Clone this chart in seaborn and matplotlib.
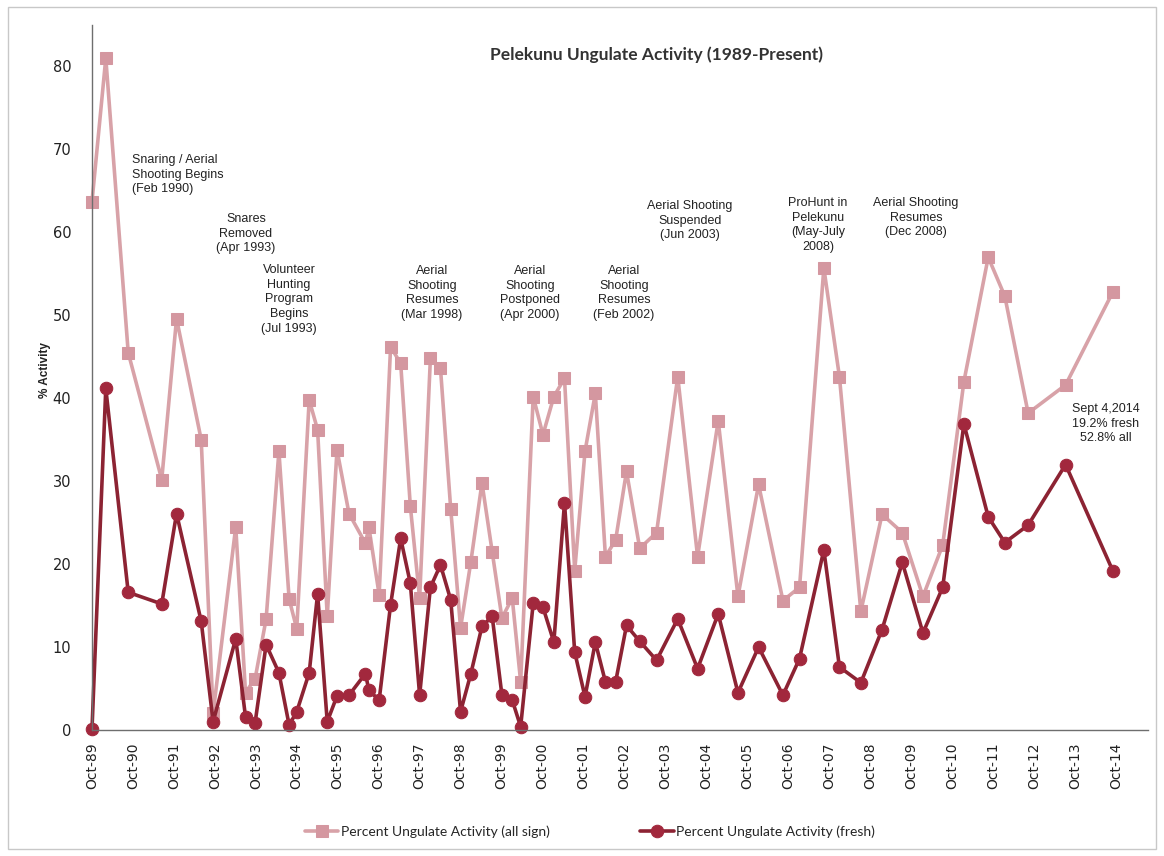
import matplotlib
matplotlib.use("Agg")
import matplotlib.pyplot as plt
import matplotlib.dates as mdates
from matplotlib.patches import Rectangle
import pandas as pd
import seaborn as sns

# survey dates (approximate)
survey_dates = [
    "1989-10-01", "1990-02-01", "1990-08-20", "1991-06-15", "1991-10-25",
    "1992-06-01", "1992-09-15", "1993-04-05", "1993-07-01", "1993-09-25",
    "1994-01-01", "1994-04-25", "1994-07-25", "1994-10-01", "1995-01-20",
    "1995-04-05", "1995-06-30", "1995-09-25", "1996-01-10", "1996-06-05",
    "1996-07-05", "1996-10-05", "1997-01-15", "1997-04-15", "1997-07-10",
    "1997-10-01", "1998-01-05", "1998-04-05", "1998-07-05", "1998-10-01",
    "1999-01-01", "1999-04-10", "1999-07-10", "1999-10-05", "2000-01-05",
    "2000-03-20", "2000-07-10", "2000-10-05", "2001-01-10", "2001-04-15",
    "2001-07-15", "2001-10-15", "2002-01-15", "2002-04-15", "2002-07-15",
    "2002-10-20", "2003-02-15", "2003-07-15", "2004-01-20", "2004-07-15",
    "2005-01-15", "2005-07-10", "2006-01-10", "2006-08-15", "2007-01-10",
    "2007-08-15", "2008-01-01", "2008-07-10", "2009-01-15", "2009-07-15",
    "2010-01-15", "2010-07-10", "2011-01-15", "2011-08-20", "2012-01-15",
    "2012-08-10", "2013-07-10", "2014-09-04",
]

all_sign = [
    63.7, 81.0, 45.5, 30.2, 49.6, 35.0, 2.0, 24.5, 4.5, 6.2,
    13.4, 33.6, 15.8, 12.2, 39.8, 36.2, 13.7, 33.8, 26.1, 22.5,
    24.5, 16.3, 46.2, 44.2, 27.0, 15.9, 44.8, 43.6, 26.7, 12.3,
    20.3, 29.8, 21.5, 13.5, 15.9, 5.8, 40.2, 35.6, 40.2, 42.4,
    19.2, 33.6, 40.6, 20.9, 22.9, 31.2, 21.9, 23.8, 42.6, 20.9,
    37.3, 16.1, 29.6, 15.6, 17.2, 55.7, 42.6, 14.3, 26.0, 23.8,
    16.1, 22.3, 42.0, 57.0, 52.3, 38.2, 41.6, 52.8,
]

fresh = [
    0.1, 41.2, 16.6, 15.2, 26.1, 13.1, 1.0, 11.0, 1.6, 0.9,
    10.3, 6.9, 0.6, 2.2, 6.9, 16.4, 1.0, 4.1, 4.2, 6.8,
    4.8, 3.6, 15.1, 23.1, 17.7, 4.2, 17.2, 19.9, 15.7, 2.2,
    6.8, 12.5, 13.7, 4.2, 3.6, 0.4, 15.3, 14.8, 10.6, 27.4,
    9.4, 4.0, 10.6, 5.8, 5.8, 12.6, 10.7, 8.4, 13.4, 7.4,
    14.0, 4.5, 10.0, 4.2, 8.6, 21.7, 7.6, 5.7, 12.1, 20.2,
    11.7, 17.2, 36.9, 25.7, 22.6, 24.7, 32.0, 19.2,
]

series_names = ["Percent Ungulate Activity (all sign)", "Percent Ungulate Activity (fresh)"]

df = pd.DataFrame({"Date": pd.to_datetime(survey_dates), "all": all_sign, "fresh": fresh})

sns.set_theme(style="white")
plt.rcParams["font.family"] = ["DejaVu Sans"]

W, H = 1164, 856
fig = plt.figure(figsize=(W / 100, H / 100), dpi=100)
ax = fig.add_axes([92 / W, 1 - 730 / H, (1148 - 92) / W, 705 / H])

# all sign (pink squares)
sns.lineplot(data=df, x="Date", y="all", ax=ax, color="#D8A2A8", linewidth=2.6,
             marker="s", markersize=9, markerfacecolor="#D497A0",
             markeredgecolor="#D497A0", label=series_names[0], clip_on=False)
# fresh (dark red circles)
sns.lineplot(data=df, x="Date", y="fresh", ax=ax, color="#8C2333", linewidth=2.6,
             marker="o", markersize=9, markerfacecolor="#A2283D",
             markeredgecolor="#A2283D", label=series_names[1], clip_on=False)

ax.set_xlim(pd.Timestamp("1989-10-01"), pd.Timestamp("2015-07-15"))
ax.set_ylim(0, 85)
ax.set_yticks(range(0, 81, 10))
ax.xaxis.set_major_locator(mdates.MonthLocator(bymonth=10))
ax.xaxis.set_major_formatter(mdates.DateFormatter("%b-%y"))
ax.set_xlabel("")
ax.set_ylabel("")

for s in ["top", "right"]:
    ax.spines[s].set_visible(False)
for s in ["left", "bottom"]:
    ax.spines[s].set_color("#6E6E6E")
    ax.spines[s].set_linewidth(1.0)

ax.tick_params(axis="x", direction="in", length=4, width=1, color="#6E6E6E",
               labelrotation=90, labelsize=10, pad=9, labelcolor="#222222")
ax.tick_params(axis="y", length=0, labelsize=10.5, pad=15, labelcolor="#222222")
for lbl in ax.get_xticklabels() + ax.get_yticklabels():
    lbl.set_family("DejaVu Sans")

# legend at the bottom
handles, labels = ax.get_legend_handles_labels()
ax.get_legend().remove()
fig.legend(handles, labels, loc="center", bbox_to_anchor=(0.507, 1 - 832 / H),
           ncol=2, frameon=False, handlelength=2.4, columnspacing=6.5,
           handletextpad=0.2, prop={"family": "Lato", "size": 10})

# title and axis label
fig.text(656 / W, 1 - 55 / H, "Pelekunu Ungulate Activity (1989-Present)",
         ha="center", va="center", fontsize=12.5, fontweight="bold",
         family="Lato", color="#333333")
fig.text(45 / W, 1 - 370 / H, "% Activity", rotation=90, ha="center", va="center",
         fontsize=8.5, fontweight="bold", family="Liberation Sans", color="#222222")

# event notes
note_kw = dict(va="top", fontsize=9, family="Liberation Sans", color="#222222",
               linespacing=1.3)
notes = [
    ("Snaring / Aerial\nShooting Begins\n(Feb 1990)", 132, 154, "left"),
    ("Snares\nRemoved\n(Apr 1993)", 246, 213, "center"),
    ("Volunteer\nHunting\nProgram\nBegins\n(Jul 1993)", 289, 264, "center"),
    ("Aerial\nShooting\nResumes\n(Mar 1998)", 432, 265, "center"),
    ("Aerial\nShooting\nPostponed\n(Apr 2000)", 530, 265, "center"),
    ("Aerial\nShooting\nResumes\n(Feb 2002)", 624, 265, "center"),
    ("Aerial Shooting\nSuspended\n(Jun 2003)", 690, 200, "center"),
    ("ProHunt in\nPelekunu\n(May-July\n2008)", 818, 197, "center"),
    ("Aerial Shooting\nResumes\n(Dec 2008)", 916, 197, "center"),
    ("Sept 4,2014\n19.2% fresh\n52.8% all", 1106, 403, "center"),
]
for txt, px, py, ha in notes:
    fig.text(px / W, 1 - py / H, txt, ha=ha, **note_kw)

# thin frame around the whole picture
fig.patches.append(Rectangle((8 / W, 7 / H), (W - 16) / W, (H - 14) / H,
                             transform=fig.transFigure, fill=False,
                             edgecolor="#C8C8C8", linewidth=1))

fig.savefig("out.png", dpi=100, facecolor="white")
